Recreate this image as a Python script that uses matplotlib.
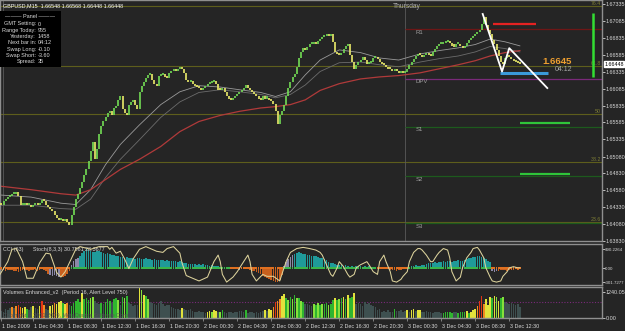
import numpy as np
import matplotlib
matplotlib.use("Agg")
import matplotlib.pyplot as plt
from matplotlib.transforms import blended_transform_factory

# ---------------- data ----------------
bars = np.arange(3, 248)
first_open = 1.6440
closes = [
    1.6437, 1.6442, 1.6445, 1.6448, 1.6450, 1.6452, 1.6453, 1.6455, 1.6450, 1.6436, 1.6437, 1.6439, 1.6436, 1.6437, 1.6434, 1.6436,
    1.6437, 1.6436, 1.6439, 1.6443, 1.6442, 1.6437, 1.6433, 1.6430, 1.6427, 1.6422, 1.6417, 1.6414, 1.6415, 1.6412, 1.6415, 1.6411,
    1.6406, 1.6422, 1.6433, 1.6445, 1.6452, 1.6462, 1.6471, 1.6480, 1.6489, 1.6501, 1.6516, 1.6530, 1.6504, 1.6519, 1.6541, 1.6554,
    1.6560, 1.6566, 1.6572, 1.6575, 1.6570, 1.6580, 1.6583, 1.6592, 1.6598, 1.6578, 1.6572, 1.6569, 1.6585, 1.6589, 1.6592, 1.6585,
    1.6578, 1.6604, 1.6613, 1.6619, 1.6625, 1.6629, 1.6631, 1.6622, 1.6616, 1.6613, 1.6628, 1.6629, 1.6631, 1.6626, 1.6625, 1.6632,
    1.6635, 1.6637, 1.6635, 1.6638, 1.6641, 1.6637, 1.6632, 1.6622, 1.6619, 1.6620, 1.6616, 1.6613, 1.6611, 1.6609, 1.6607, 1.6610,
    1.6613, 1.6616, 1.6617, 1.6619, 1.6620, 1.6616, 1.6607, 1.6606, 1.6609, 1.6604, 1.6597, 1.6594, 1.6592, 1.6595, 1.6598, 1.6601,
    1.6603, 1.6606, 1.6610, 1.6614, 1.6610, 1.6606, 1.6604, 1.6601, 1.6598, 1.6594, 1.6592, 1.6597, 1.6594, 1.6595, 1.6592, 1.6591,
    1.6586, 1.6575, 1.6557, 1.6569, 1.6575, 1.6585, 1.6598, 1.6610, 1.6619, 1.6626, 1.6631, 1.6640, 1.6654, 1.6663, 1.6669, 1.6666,
    1.6671, 1.6674, 1.6675, 1.6678, 1.6674, 1.6679, 1.6682, 1.6685, 1.6687, 1.6688, 1.6687, 1.6690, 1.6678, 1.6663, 1.6660, 1.6659,
    1.6662, 1.6668, 1.6672, 1.6674, 1.6659, 1.6648, 1.6637, 1.6643, 1.6648, 1.6651, 1.6656, 1.6651, 1.6645, 1.6647, 1.6648, 1.6654,
    1.6656, 1.6653, 1.6648, 1.6645, 1.6643, 1.6640, 1.6638, 1.6637, 1.6635, 1.6637, 1.6635, 1.6632, 1.6634, 1.6632, 1.6634, 1.6638,
    1.6643, 1.6648, 1.6653, 1.6657, 1.6660, 1.6659, 1.6656, 1.6659, 1.6662, 1.6659, 1.6657, 1.6663, 1.6668, 1.6672, 1.6674, 1.6675,
    1.6676, 1.6678, 1.6679, 1.6676, 1.6672, 1.6671, 1.6674, 1.6674, 1.6672, 1.6669, 1.6672, 1.6676, 1.6681, 1.6684, 1.6687, 1.6690,
    1.6693, 1.6696, 1.6705, 1.6715, 1.6703, 1.6696, 1.6690, 1.6681, 1.6675, 1.6666, 1.6657, 1.6648, 1.6645, 1.6654, 1.6657, 1.6656,
    1.6653, 1.6650, 1.6648, 1.6647, 1.66448,
]

ma_bars = [3, 17, 31, 38, 45, 52, 59, 68, 78, 87, 96, 106, 115, 125, 132, 139, 146, 153, 162, 172, 181, 190, 200, 209, 218, 226, 233, 240, 247]
ma_fast = [1.6451, 1.6448, 1.6439, 1.6437, 1.6459, 1.6496, 1.6526, 1.6555, 1.6585, 1.6604, 1.6613, 1.6611, 1.6607, 1.6603, 1.6597,
           1.6604, 1.6629, 1.6651, 1.6666, 1.6662, 1.6654, 1.6651, 1.6660, 1.6665, 1.6669, 1.6674, 1.6682, 1.6678, 1.6672]
ma_slow = [1.6436, 1.6436, 1.6431, 1.6430, 1.6445, 1.6477, 1.6504, 1.6533, 1.6566, 1.6589, 1.6603, 1.6607, 1.6604, 1.6600, 1.6595,
           1.6600, 1.6614, 1.6634, 1.6647, 1.6648, 1.6644, 1.6641, 1.6648, 1.6653, 1.6657, 1.6663, 1.6671, 1.6668, 1.6663]
ma_long = [1.6464, 1.6459, 1.6453, 1.6451, 1.6459, 1.6474, 1.6489, 1.6504, 1.6523, 1.6545, 1.6560, 1.6569, 1.6575, 1.6580, 1.6582,
           1.6585, 1.6592, 1.6606, 1.6616, 1.6623, 1.6626, 1.6628, 1.6632, 1.6638, 1.6644, 1.6650, 1.6657, 1.6662, 1.6665]

price_ticks = [1.67335, 1.67085, 1.66835, 1.66585, 1.66335, 1.66085, 1.65835, 1.65585, 1.65335,
               1.65080, 1.64830, 1.64580, 1.64330, 1.64080, 1.63830]
last_price = 1.66448

fib_levels = [1.67311, 1.66425, 1.65709, 1.64993, 1.64114]
fib_labels = ["76.4", "61.8", "50", "38.2", "23.6"]
pivot_names = ["R1", "DPV", "S1", "S2", "S3"]
pivot_levels = [1.66971, 1.66233, 1.65524, 1.64786, 1.64092]
pivot_colors = ["#6e1616", "#7a2a7a", "#1d5a1d", "#1d5a1d", "#1d5a1d"]
separator_bar = 193

# user-drawn objects: (start bar, end bar, price)
red_line = (234.4, 254.6, 1.67049)
blue_line = (237.6, 260.0, 1.66315)
green_lines = [(247.0, 270.8, 1.65571), (247.0, 270.8, 1.64817)]
zigzag_bars = [229.5, 238.6, 242.0, 259.9]
zigzag_prices = [1.67192, 1.66340, 1.66686, 1.66095]
timer_bar = 281.5
timer_range = (1.67206, 1.66252)

cci = [
    -40, -50, -60, -50, -40, -50, -60, -70, -80, -60, -50, -40, -50, -60, -50, -40,
    -50, -60, -40, -30, -40, -60, -120, -150, -160, -140, -170, -190, -180, -190, -160, -120,
    -60, 60, 150, 190, 215, 260, 320, 360, 390, 370, 350, 330, 340, 360, 350, 330,
    320, 300, 310, 290, 270, 280, 260, 250, 240, 230, 220, 230, 210, 200, 200, 190,
    200, 210, 190, 180, 200, 190, 180, 170, 180, 170, 160, 170, 160, 150, 160, 150,
    150, 140, 150, 130, 140, 120, 110, 100, 90, 80, 90, 80, 70, 80, 70, 80,
    60, 70, 50, 60, 40, 50, 40, 30, 20, 30, 10, 20, 0, -10, -20, -30,
    -40, -30, -20, -10, -20, -40, -60, -70, -80, -100, -130, -160, -180, -210, -240, -260,
    -280, -300, -290, -250, -140, 40, 120, 180, 240, 270, 300, 320, 330, 310, 300, 290,
    280, 270, 260, 250, 260, 240, 220, 200, 180, 160, 130, 110, 100, 90, 70, 60,
    60, 50, 60, 40, 30, 40, 30, 40, 50, 40, 30, 40, 30, 40, 20, 10,
    10, 0, -10, -10, -20, -20, -30, -40, -50, -40, -60, -50, -40, -30, -20, -10,
    20, 40, 50, 60, 40, 50, 60, 70, 90, 100, 110, 100, 120, 110, 130, 120,
    140, 130, 150, 140, 130, 150, 140, 160, 150, 140, 170, 180, 200, 220, 230, 240,
    250, 260, 240, 220, 180, 150, 130, -60, -80, -70, -60, -50, -40, -50, -60, -40, -50, -40, -30, -40, -30,
]
cci_gray_spans = [(26, 30), (36, 39), (114, 118), (136, 140), (234, 236)]

stoch_bars = [2, 6, 8, 10, 13, 15, 18, 21, 24, 26, 29, 31, 33, 35, 38, 40, 45, 49, 53, 54, 55, 57, 59, 61, 63, 65, 68, 71, 76, 79,
              81, 84, 87, 88, 90, 93, 96, 100, 103, 105, 106, 107, 109, 112, 114, 117, 119, 120, 121, 123, 126, 128, 131, 133, 134,
              135, 137, 139, 142, 145, 148, 151, 153, 154, 156, 158, 159, 161, 162, 164, 166, 167, 169, 170, 172, 175, 176, 178,
              180, 181, 183, 184, 186, 187, 189, 191, 192, 194, 195, 197, 199, 200, 201, 203, 205, 206, 208, 209, 211, 213, 214,
              215, 217, 219, 220, 222, 224, 225, 227, 228, 230, 231, 233, 234, 236, 238, 239, 241, 242, 244, 246, 247]
stoch = [22, 58, 90, 92, 58, 15, 15, 55, 80, 78, 30, 18, 32, 55, 90, 97, 90, 97, 97, 90, 95, 80, 85, 65, 40, 65, 90, 97, 85, 82,
         92, 97, 80, 55, 22, 15, 8, 18, 58, 75, 58, 25, 5, 18, 32, 58, 75, 58, 25, 8, 25, 20, 20, 12, 8,
         25, 58, 82, 92, 95, 92, 88, 82, 75, 50, 25, 20, 42, 58, 45, 25, 18, 25, 42, 50, 58, 50, 32,
         25, 58, 75, 58, 32, 8, 5, 12, 20, 32, 58, 82, 92, 92, 88, 75, 58, 58, 75, 82, 92, 88, 68,
         32, 8, 18, 42, 68, 82, 92, 95, 88, 68, 42, 18, 8, 5, 8, 20, 32, 42, 45, 42, 42]

volumes = [
    350, 300, 420, 380, 450, 520, 480, 560, 600, 520, 460, 500, 420, 380, 520, 560,
    480, 440, 560, 820, 600, 420, 380, 560, 620, 700, 660, 760, 820, 700, 650, 720,
    600, 560, 720, 820, 880, 760, 1180, 900, 960, 840, 920, 1000, 780, 700, 640, 720,
    680, 760, 900, 820, 700, 880, 940, 860, 620, 980, 940, 1020, 700, 640, 580, 620,
    600, 1400, 1300, 1100, 1020, 900, 760, 700, 640, 620, 700, 780, 660, 560, 620, 600,
    500, 460, 420, 440, 400, 460, 420, 380, 360, 420, 320, 300, 280, 340, 300, 260,
    240, 300, 340, 280, 360, 320, 260, 300, 380, 280, 240, 300, 260, 220, 260, 300,
    340, 320, 280, 380, 240, 300, 260, 240, 280, 220, 300, 320, 380, 320, 420, 360,
    520, 760, 820, 880, 1020, 1120, 920, 860, 1000, 880, 1080, 960, 940, 820, 760, 680,
    660, 620, 560, 660, 600, 700, 620, 640, 660, 700, 620, 660, 860, 920, 860, 900,
    960, 980, 900, 1060, 960, 980, 1180, 640, 720, 660, 580, 760, 640, 700, 620, 560,
    500, 380, 420, 300, 320, 280, 360, 260, 300, 420, 340, 320, 360, 300, 320, 380,
    300, 380, 420, 340, 380, 400, 300, 280, 340, 260, 300, 240, 280, 300, 260, 220,
    240, 260, 300, 260, 240, 300, 260, 220, 300, 280, 260, 320, 240, 300, 360, 420,
    560, 780, 1020, 680, 880, 620, 980, 920, 1040, 980, 820, 920, 1000, 760, 700, 660, 720, 640, 600, 680, 520,
]
volume_grades = ("gggggogoroyyGggy" "ggyroggyyoyyyGyo" "gGGGGGyGGGllgggG" "gGGGgGGlgGlGgggg"
                 "gylyGlgggggggggg" "gggggygggggggggg" "gyylyyglGggggggg" "gggGggggggggygyy"
                 "orooyyGlGlGlGlGg" "ggglGlGlGGlGGyGl" "GyGyGGyggggggggg" "gggggggggGgggggy"
                 "gyygyygggggggggg" "GGGGGggGGGGyGyyy" "orroyyyGylyGlgggggggg")
alert_level = 750

time_bars = [3, 18, 34, 50, 66, 82, 98, 114, 130, 146, 162, 178, 194, 210, 226, 242]
time_labels = ["1 Dec 2009", "1 Dec 04:30", "1 Dec 08:30", "1 Dec 12:30", "1 Dec 16:30", "1 Dec 20:30",
               "2 Dec 00:30", "2 Dec 04:30", "2 Dec 08:30", "2 Dec 12:30", "2 Dec 16:30", "2 Dec 20:30",
               "3 Dec 00:30", "3 Dec 04:30", "3 Dec 08:30", "3 Dec 12:30"]

panel_keys = ["GMT Setting:", "Range Today:", "Yesterday:", "Next bar in:", "Swap Long:", "Swap Short:", "Spread:"]
panel_vals = ["0", "955", "1458", "04:12", "-0.10", "-3.60", "35"]

# ---------------- layout ----------------
W, H = 625, 331
BG = "#252525"
FRAME = "#8f8f8f"
TXT = "#d8d8d8"
FS = 3.9
plt.rcParams["font.family"] = ["Liberation Sans", "DejaVu Sans"]

fig = plt.figure(figsize=(W / 100, H / 100), dpi=100, facecolor=BG)


def px_axes(left, top, right, bottom):
    ax = fig.add_axes([left / W, 1 - bottom / H, (right - left) / W, (bottom - top) / H])
    ax.set_facecolor(BG)
    for s in ax.spines.values():
        s.set_color(FRAME)
        s.set_linewidth(1.0)
    return ax


def bar_of(xpx):
    return (xpx + 5) / 2.125


def right_ticks(ax, ticks, labels, size=FS, pad=0.6):
    ax.yaxis.tick_right()
    ax.set_yticks(ticks)
    ax.set_yticklabels(labels)
    ax.tick_params(axis="y", colors=TXT, labelsize=size, length=2, pad=pad, width=0.6)


XLIM = (bar_of(0), bar_of(602))

# ---------------- main chart ----------------
ax = px_axes(0, 0, 602, 241)
ax.set_xlim(*XLIM)
ax.set_ylim(1.63839, 1.67399)
ax.set_xticks([])
right_ticks(ax, price_ticks, [f"{p:.5f}" for p in price_ticks])

for lvl, lab in zip(fib_levels, fib_labels):
    ax.axhline(lvl, color="#5e5e1c", lw=0.8, zorder=1)
    ax.text(XLIM[1] - 0.6, lvl, lab, color="#7d7d35", fontsize=3.8, ha="right", va="bottom")

ax.axvline(separator_bar, color="#5a5a5a", lw=0.6, zorder=1)
ax.axvline(bar_of(2.5), color="#5a5a5a", lw=0.6, zorder=1)
ax.text(separator_bar - 6, 1.6731, "Thursday", color="#b0b0b0", fontsize=4.8, va="center")

for name, lvl, col in zip(pivot_names, pivot_levels, pivot_colors):
    ax.hlines(lvl, separator_bar, XLIM[1], color=col, lw=0.9, zorder=1)
    ax.text(separator_bar + 5, lvl - 0.0001, name, color="#a0a0a0", fontsize=4.3, va="top")

opens = [first_open] + closes[:-1]
up = np.array(closes) >= np.array(opens)
lo = np.minimum(opens, closes)
hi = np.maximum(opens, closes)
hi = np.maximum(hi, lo + 0.0003)
ax.vlines(bars[up], lo[up], hi[up], color="#72dc55", lw=1.2, zorder=3)
ax.vlines(bars[~up], lo[~up], hi[~up], color="#ecec6a", lw=1.2, zorder=3)

ax.plot(ma_bars, ma_slow, color="#6c6c6c", lw=0.6, zorder=2)
ax.plot(ma_bars, ma_fast, color="#9a9a9a", lw=0.6, zorder=2)
ax.plot(ma_bars, ma_long, color="#b03a3a", lw=0.9, zorder=2)

ax.hlines(red_line[2], red_line[0], red_line[1], color="#e52222", lw=1.6, zorder=4)
ax.hlines(blue_line[2], blue_line[0], blue_line[1], color="#3a9ad9", lw=2.2, zorder=4)
for b0, b1, p in green_lines:
    ax.hlines(p, b0, b1, color="#2fc43a", lw=1.6, zorder=4)
ax.plot(zigzag_bars, zigzag_prices, color="white", lw=1.3, zorder=5)
ax.vlines(timer_bar, timer_range[1], timer_range[0], color="#33dd33", lw=1.8, zorder=4)

ax.text(bar_of(572), 1.66495, "1.6645", color="#f0a030", fontsize=6.8, fontweight="bold", ha="right", va="center")
ax.text(bar_of(572), 1.66365, "04:12", color="#a8a8a8", fontsize=5, ha="right", va="center")

ax.text(0.005, 0.985, "GBPUSD,M15  1.66548 1.66568 1.66448 1.66448", transform=ax.transAxes,
        color="white", fontsize=FS, va="top")

# current price tag
ax.annotate(f"{last_price:.5f}", xy=(1.0, last_price), xycoords=("axes fraction", "data"),
            xytext=(1.6, 0), textcoords="offset points", fontsize=FS, color="black", va="center",
            bbox=dict(boxstyle="square,pad=0.12", fc="white", ec="white"), annotation_clip=False)

# info panel
pan = fig.add_axes([0, 1 - 67 / H, 61 / W, 56 / H])
pan.set_facecolor("black")
pan.set_xticks([])
pan.set_yticks([])
for s in pan.spines.values():
    s.set_visible(False)
pan.set_xlim(0, 61)
pan.set_ylim(56, 0)
pan.text(30, 5, "——— Panel ———", color=TXT, fontsize=4, ha="center", va="center")
for i_row, (key, val) in enumerate(zip(panel_keys, panel_vals)):
    yy = 13 + i_row * 6.3
    pan.text(36, yy, key, color=TXT, fontsize=4, ha="right", va="center")
    pan.text(38, yy, val, color=TXT, fontsize=4, ha="left", va="center")

# ---------------- CCI / Stoch ----------------
CCI_LIM = (-357.0, 504.0)
STOCH_LIM = (-2.5, 103.75)
axc = px_axes(0, 244, 602, 285)
axc.set_xlim(*XLIM)
axc.set_ylim(*CCI_LIM)
axc.set_xticks([])
right_ticks(axc, [390.2264, 0, -301.7277], ["390.2264", "0.00", "-301.7277"], size=3.15, pad=0.3)
cci_arr = np.array(cci)
cci_cols = np.where(cci_arr >= 0, "#1f9a9a", "#c8601e").astype(object)
for a, b in cci_gray_spans:
    m = (bars >= a) & (bars <= b)
    cci_cols[m] = "#8c88a8"
axc.bar(bars, cci_arr, width=0.75, color=list(cci_cols), zorder=2)
axc.scatter(bars, np.zeros(len(bars)), s=1.6, marker="s",
            c=np.where(cci_arr > 0, "#39b54a", "#e07020"), zorder=3, linewidths=0)
axc.text(0.005, 0.87, "CCI (63)", transform=axc.transAxes, color=TXT, fontsize=FS, va="center")
axc.text(0.055, 0.87, "Stoch(8,3,3) 30.7561 28.3677", transform=axc.transAxes, color=TXT, fontsize=FS, va="center")

# stochastic shares the sub-window on its own 0..100 scale
scale = (CCI_LIM[1] - CCI_LIM[0]) / (STOCH_LIM[1] - STOCH_LIM[0])
stoch_in_window = (np.array(stoch, dtype=float) - STOCH_LIM[0]) * scale + CCI_LIM[0]
axc.plot(np.array(stoch_bars, dtype=float), stoch_in_window, color="#ddd39c", lw=0.75, zorder=6)

# ---------------- Volumes ----------------
axv = px_axes(0, 287, 602, 318)
axv.set_xlim(*XLIM)
axv.set_ylim(0, 1460)
right_ticks(axv, [1240.05, 0], ["1240.05", "0.00"])
grade_cols = {"g": "#3e5050", "G": "#2fb52f", "l": "#86e03c", "y": "#e2e23c", "o": "#f08a20", "r": "#e23414"}
axv.bar(bars, volumes, width=0.75, color=[grade_cols[c] for c in volume_grades], zorder=2)
axv.axhline(alert_level, color="#7a2a7a", lw=0.8, ls=(0, (1, 1.5)), zorder=1)
axv.text(0.005, 0.82, "Volumes Enhanced_v2  (Period 16, Alert Level 750)", transform=axv.transAxes,
         color=TXT, fontsize=FS, va="center")
axv.text(0.005, 0.1, "Copyright \u00a9 2001-2009, MetaQuotes Software Corp.", transform=axv.transAxes,
         color="#555555", fontsize=FS, va="center")

trans = blended_transform_factory(axv.transData, axv.transAxes)
axv.set_xticks(time_bars)
axv.set_xticklabels([])
axv.tick_params(axis="x", colors=FRAME, length=2.5, width=0.6)
for b, lab in zip(time_bars, time_labels):
    axv.text(b + 0.4, -0.2, lab, transform=trans, color=TXT, fontsize=FS, ha="left", va="top")

fig.savefig("out.png", dpi=100, facecolor=BG)
